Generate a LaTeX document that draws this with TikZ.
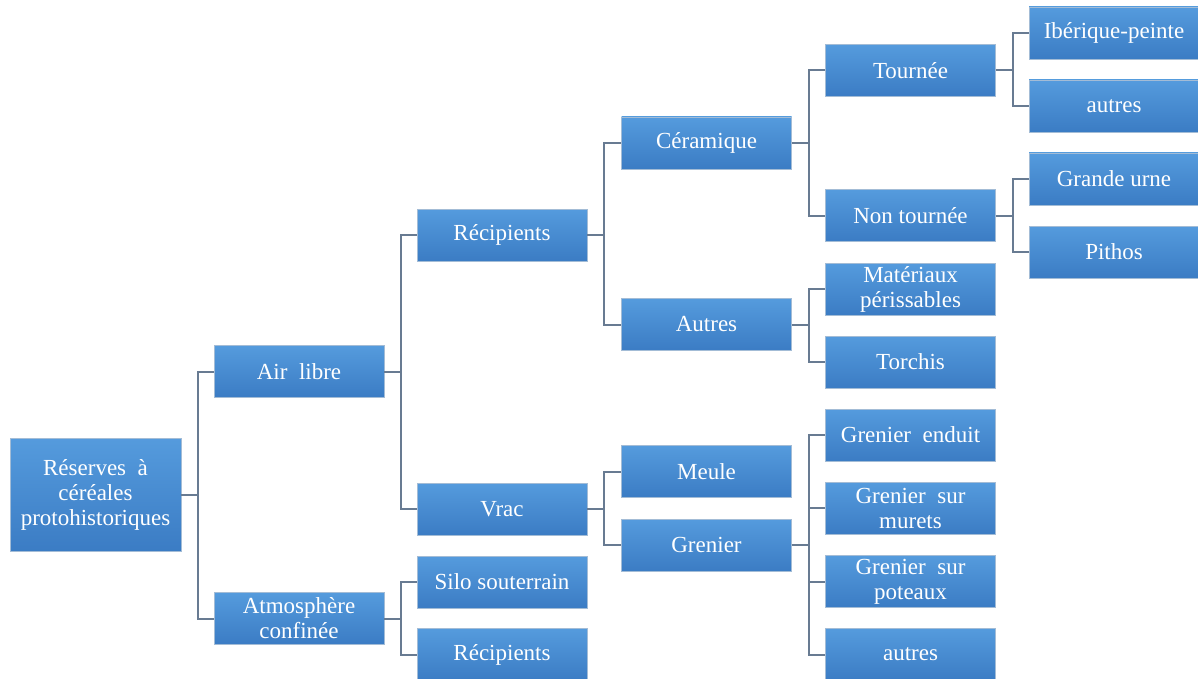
\documentclass[tikz,border=0pt]{standalone}
\usepackage{fontspec}
\setmainfont{Liberation Serif}
\definecolor{boxtop}{HTML}{559BDD}
\definecolor{boxbot}{HTML}{3B7CC4}
\definecolor{boxedge}{HTML}{A3BCD6}
\definecolor{linkc}{HTML}{687B92}
\tikzset{
  box/.style={rectangle, top color=boxtop, bottom color=boxbot, draw=boxedge, line width=0.9pt,
    minimum width=170pt, minimum height=52pt, inner sep=0pt, text=white, align=center,
    font=\fontsize{23}{25}\selectfont},
  link/.style={draw=linkc, line width=2pt}
}
\begin{document}
\begin{tikzpicture}[x=1pt,y=-1pt]
\useasboundingbox (0,0) rectangle (1198,679);
% level 0
\node[box, minimum width=171pt, minimum height=113pt] (root) at (95.5,494.5) {Réserves~ à\\céréales\\protohistoriques};
% level 1
\node[box] (air) at (299,371.5) {Air~ libre};
\node[box] (atm) at (299,618.5) {Atmosphère\\confinée};
% level 2
\node[box] (rec) at (502,235) {Récipients};
\node[box] (vrac) at (502,509) {Vrac};
\node[box] (silo) at (502,582) {Silo souterrain};
\node[box] (rec2) at (502,654.5) {Récipients};
% level 3
\node[box] (cer) at (706.5,143) {Céramique};
\node[box] (aut) at (706.5,324.5) {Autres};
\node[box] (meule) at (706.5,471.5) {Meule};
\node[box] (gren) at (706.5,545) {Grenier};
% level 4
\node[box] (tour) at (910.5,70.5) {Tournée};
\node[box] (ntour) at (910.5,215.5) {Non tournée};
\node[box] (mat) at (910.5,289) {Matériaux\\périssables};
\node[box] (torch) at (910.5,362) {Torchis};
\node[box] (genduit) at (910.5,435) {Grenier~ enduit};
\node[box] (gmur) at (910.5,508) {Grenier~ sur\\murets};
\node[box] (gpot) at (910.5,581.5) {Grenier~ sur\\poteaux};
\node[box] (gaut) at (910.5,654.5) {autres};
% level 5
\node[box] (iber) at (1114,33) {Ibérique-peinte};
\node[box] (taut) at (1114,106) {autres};
\node[box] (urne) at (1114,179) {Grande urne};
\node[box] (pith) at (1114,252) {Pithos};
% connectors
\foreach \p/\c in {root/air, root/atm, air/rec, air/vrac, atm/silo, atm/rec2,
  rec/cer, rec/aut, vrac/meule, vrac/gren, cer/tour, cer/ntour, aut/mat, aut/torch,
  gren/genduit, gren/gmur, gren/gpot, gren/gaut, tour/iber, tour/taut, ntour/urne, ntour/pith}
  \draw[link] (\p.east) -- ++(17,0) |- (\c.west);
\end{tikzpicture}
\end{document}
